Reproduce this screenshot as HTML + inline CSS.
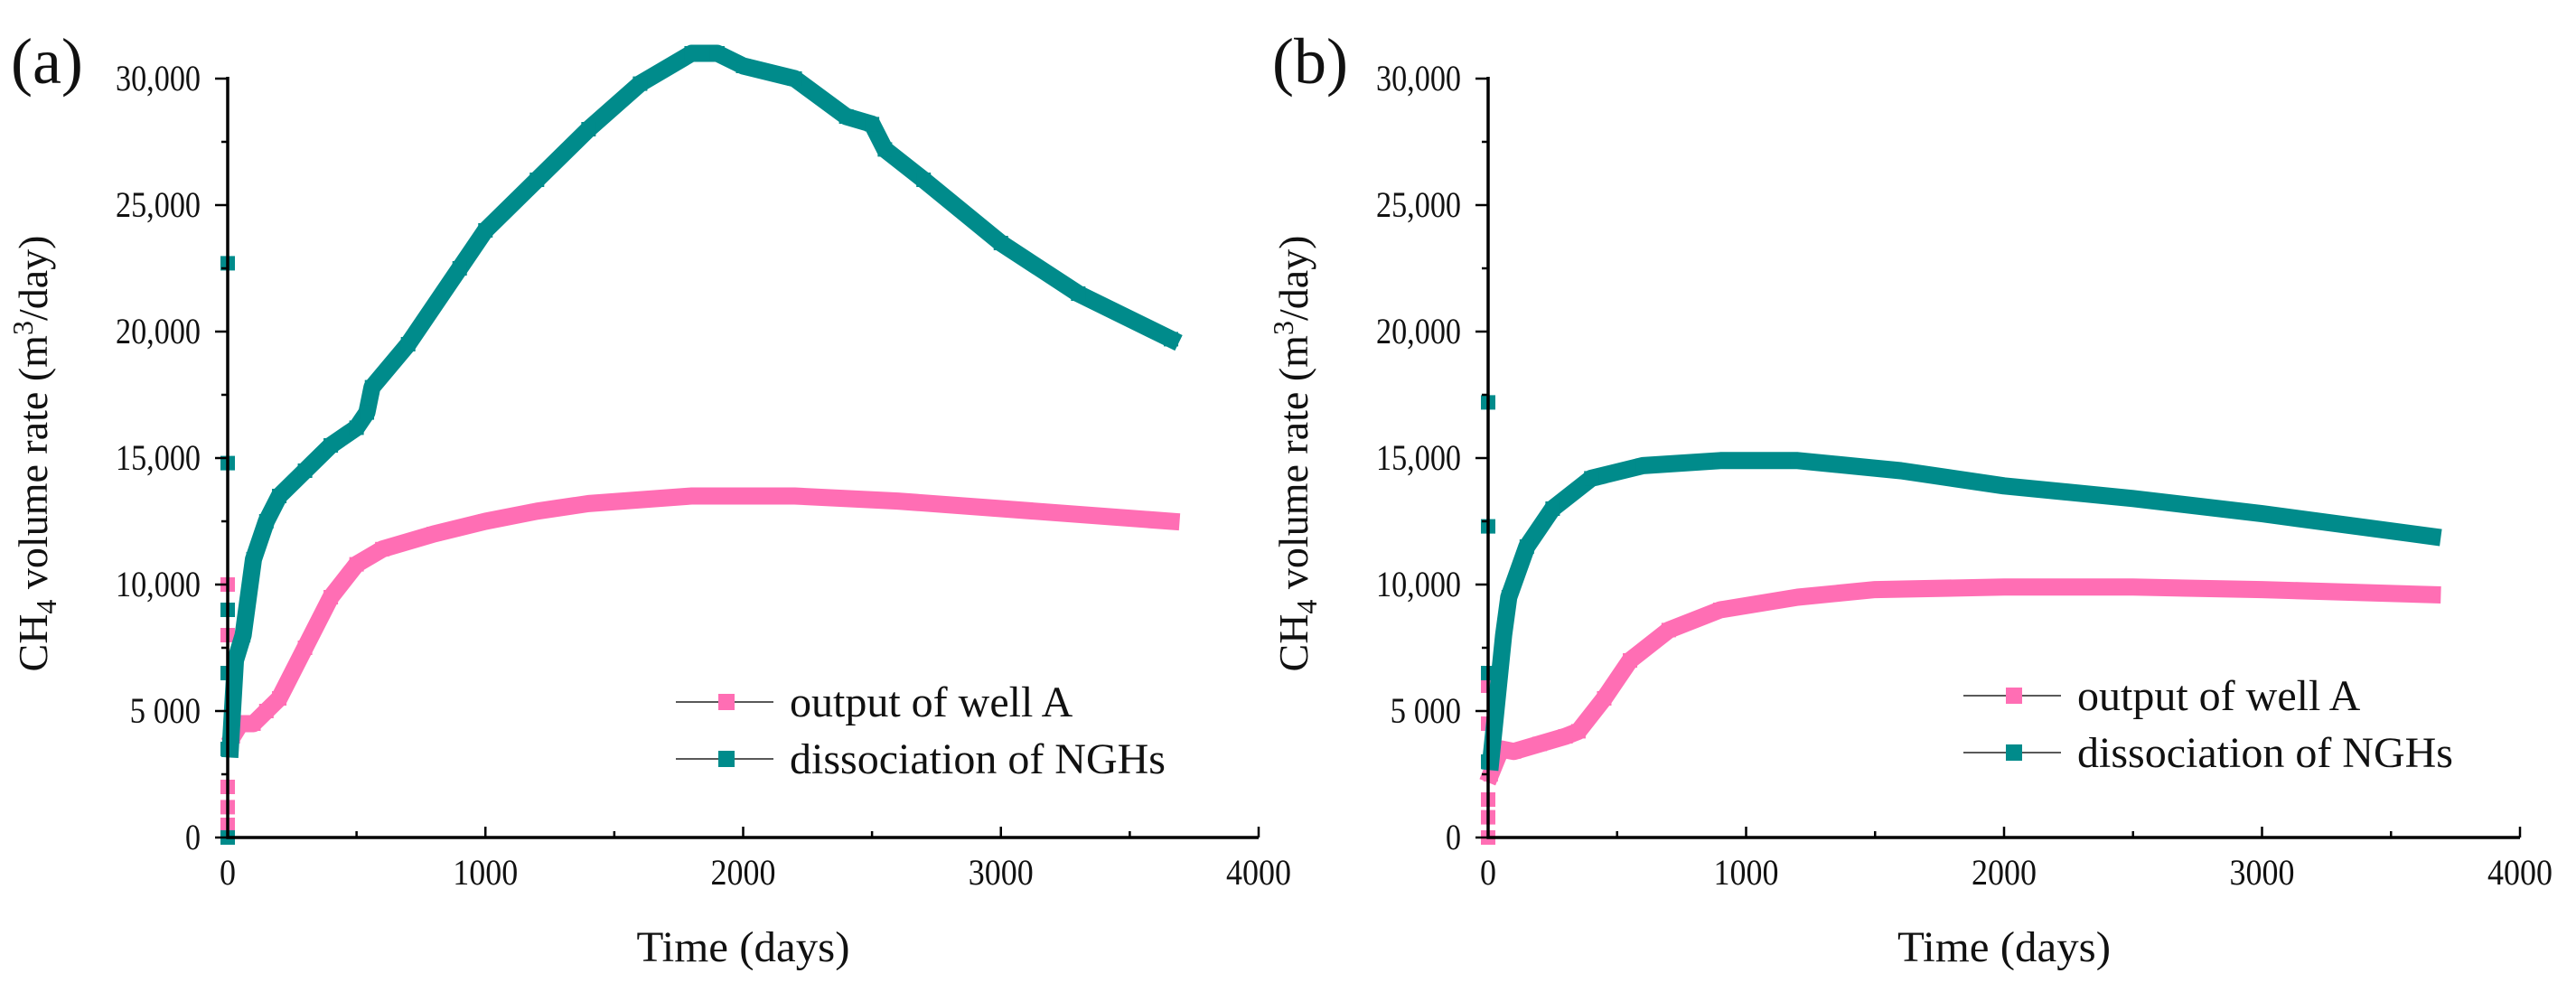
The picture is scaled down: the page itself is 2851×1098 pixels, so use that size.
<!DOCTYPE html>
<html><head><meta charset="utf-8"><style>
html,body{margin:0;padding:0;background:#fff;}
svg{display:block;}
text{font-family:"Liberation Serif","Times New Roman",serif;fill:#111;}
</style></head><body>
<svg id="fig" width="2851" height="1098" viewBox="0 0 2851 1098" xmlns="http://www.w3.org/2000/svg"></svg>
<script>
// Panel (a) data
const aTealX = [10,30,60,80,100,150,200,300,400,500,540,560,700,900,1000,1200,1400,1600,1800,1900,2000,2200,2400,2500,2550,2700,3000,3300,3660];
const aTealY = [3500,7000,8000,9500,11000,12500,13500,14500,15500,16200,16800,17800,19500,22500,24000,26000,28000,29800,31000,31000,30500,30000,28500,28200,27200,26000,23500,21500,19700];
const aTealZeroY = [22700,14800,9000,6500,3500,0];
const aPinkX = [20,50,100,150,200,300,400,500,600,800,1000,1200,1400,1800,2200,2600,3000,3660];
const aPinkY = [4000,4500,4500,5000,5500,7500,9500,10800,11400,12000,12500,12900,13200,13500,13500,13300,13000,12500];
const aPinkZeroY = [10000,8000,6500,2000,1200,500,0];
// Panel (b) data
const bTealX = [10,30,60,80,150,250,400,600,900,1200,1600,2000,2500,3000,3660];
const bTealY = [3000,5000,8000,9500,11500,13000,14200,14700,14900,14900,14500,13900,13400,12800,11900];
const bTealZeroY = [17200,12300,6500,3000];
const bPinkX = [10,50,100,200,300,350,450,550,700,900,1200,1500,2000,2500,3000,3660];
const bPinkY = [2500,3500,3400,3700,4000,4200,5500,7000,8200,9000,9500,9800,9900,9900,9800,9600];
const bPinkZeroY = [6000,4500,1500,800,0];
// ticks
const xTicks = [0,1000,2000,3000,4000];
const yTicks = [0,5000,10000,15000,20000,25000,30000];
const yTickLabels = ["0","5 000","10,000","15,000","20,000","25,000","30,000"];

const PINK = "#ff6eb4", TEAL = "#008b8b";
const NS = "http://www.w3.org/2000/svg";
const svg = document.getElementById('fig');
function mk(tag, attrs, parent, txt){
  const e = document.createElementNS(NS, tag);
  for (const k in attrs) e.setAttribute(k, attrs[k]);
  if (txt !== undefined) e.textContent = txt;
  (parent || svg).appendChild(e);
  return e;
}
function panel(p){
  const g = mk('g', {});
  
  
  const x0 = p.left, x1 = p.right, yTop = 87, yBot = 927;
  const sx = v => x0 + (v / 4000) * (x1 - x0);
  const sy = v => yBot - (v / 30000) * (yBot - yTop);
  function series(xs, ys, zeros, color, name){
    const sg = mk('g', {}, g);
    
    
    const pts = xs.map((x, i) => sx(x) + ',' + sy(ys[i])).join(' ');
    mk('polyline', {points: pts, fill: 'none', stroke: color, 'stroke-width': 19, 'stroke-linejoin': 'round', 'stroke-linecap': 'square'}, sg);
    xs.forEach((x, i) => {
      const r = mk('rect', {x: sx(x) - 8, y: sy(ys[i]) - 8, width: 16, height: 16, fill: color}, sg);
      
      
    });
    zeros.forEach(v => {
      const r = mk('rect', {x: sx(0) - 8, y: sy(v) - 8, width: 16, height: 16, fill: color}, sg);
      
      
    });
  }
  series(p.pinkX, p.pinkY, p.pinkZ, PINK, 'series-output-well-a');
  series(p.tealX, p.tealY, p.tealZ, TEAL, 'series-dissociation-nghs');
  const ax = mk('g', {}, g);
  
  
  mk('line', {x1: x0, y1: yTop - 2, x2: x0, y2: yBot + 1.5, stroke: '#000', 'stroke-width': 3.5}, ax);
  mk('line', {x1: x0 - 1.5, y1: yBot, x2: x1, y2: yBot, stroke: '#000', 'stroke-width': 3.5}, ax);
  for (let v = 0; v <= 30000; v += 2500){
    const major = v % 5000 === 0;
    mk('line', {x1: x0 - (major ? 14 : 7), y1: sy(v), x2: x0, y2: sy(v), stroke: '#000', 'stroke-width': 2.5}, ax);
  }
  yTicks.forEach((v, i) => {
    const t = mk('text', {x: x0 - 30, y: sy(v) + 13, 'text-anchor': 'end', 'font-size': 40, textLength: yTickLabels[i].length > 1 ? 94 * yTickLabels[i].length / 6 : 17, lengthAdjust: 'spacingAndGlyphs'}, ax, yTickLabels[i]);
    
    
  });
  for (let v = 0; v <= 4000; v += 500){
    const major = v % 1000 === 0;
    mk('line', {x1: sx(v), y1: yBot - (major ? 12 : 7), x2: sx(v), y2: yBot, stroke: '#000', 'stroke-width': 2.5}, ax);
  }
  xTicks.forEach(v => {
    const t = mk('text', {x: sx(v), y: yBot + 52, 'text-anchor': 'middle', 'font-size': 40, textLength: String(v).length * 18, lengthAdjust: 'spacingAndGlyphs'}, ax, String(v));
    
    
  });
  const xt = mk('text', {x: (x0 + x1) / 2, y: 1064, 'text-anchor': 'middle', 'font-size': 48, textLength: 236, lengthAdjust: 'spacingAndGlyphs'}, g, 'Time (days)');
  
  
  const yt = mk('text', {x: 0, y: 0, 'text-anchor': 'middle', 'font-size': 46, transform: 'translate(' + (p.left - 200) + ',502) rotate(-90)'}, g);
  
  
  mk('tspan', {}, yt, 'CH');
  mk('tspan', {'font-size': 32, dy: 10}, yt, '4');
  mk('tspan', {dy: -10}, yt, ' volume rate (m');
  mk('tspan', {'font-size': 32, dy: -16}, yt, '3');
  mk('tspan', {dy: 16}, yt, '/day)');
  const lab = mk('text', {x: p.labelX, y: 92, 'font-size': 72}, g, p.label);
  
  
  const lg = mk('g', {}, g);
  
  
  [[PINK, 'output of well A', p.legY], [TEAL, 'dissociation of NGHs', p.legY + 63]].forEach(([c, s, y]) => {
    const e = mk('g', {}, lg);
    
    
    mk('line', {x1: p.legX, y1: y, x2: p.legX + 108, y2: y, stroke: '#222', 'stroke-width': 1.5}, e);
    mk('rect', {x: p.legX + 47, y: y - 9, width: 18, height: 18, fill: c}, e);
    mk('text', {x: p.legX + 126, y: y + 16, 'font-size': 48}, e, s);
  });
}
panel({id:'a', left:252, right:1393, label:'(a)', labelX:12, legX:748, legY:777,
  tealX:aTealX, tealY:aTealY, tealZ:aTealZeroY, pinkX:aPinkX, pinkY:aPinkY, pinkZ:aPinkZeroY});
panel({id:'b', left:1647, right:2789, label:'(b)', labelX:1408, legX:2173, legY:770,
  tealX:bTealX, tealY:bTealY, tealZ:bTealZeroY, pinkX:bPinkX, pinkY:bPinkY, pinkZ:bPinkZeroY});
</script>
</body></html>
